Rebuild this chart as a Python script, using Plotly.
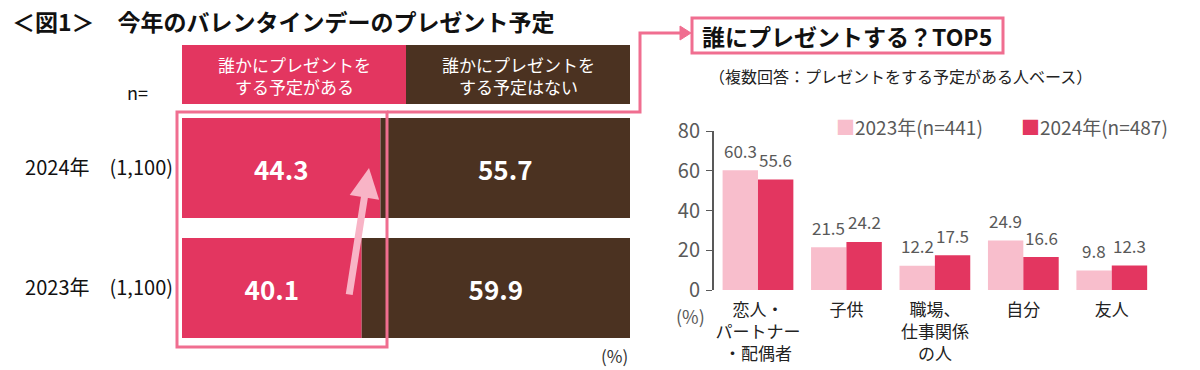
import plotly.graph_objects as go

# ---------------- data ----------------
years = ["2023年", "2024年"]
n_sizes = [1100, 1100]
yes_plan = [40.1, 44.3]
no_plan = [59.9, 55.7]
left_headers = ["誰かにプレゼントを<br>する予定がある", "誰かにプレゼントを<br>する予定はない"]

recipients = ["恋人・<br>パートナー<br>・配偶者", "子供", "職場、<br>仕事関係<br>の人", "自分", "友人"]
vals_2023 = [60.3, 21.5, 12.2, 24.9, 9.8]
vals_2024 = [55.6, 24.2, 17.5, 16.6, 12.3]
legend_names = ["2023年(n=441)", "2024年(n=487)"]
y_ticks = [0, 20, 40, 60, 80]

# ---------------- style ----------------
W, H = 1200, 370
PINK = "#E33660"
LPINK = "#F8BECC"
BROWN = "#4B3221"
OUTLINE = "#F06E90"
ARROW = "#F8B4C6"
GRAY = "#595959"
JP = "Noto Sans CJK JP"


def px(x):
    return x / W


def py(y):
    return 1 - y / H


row_labels = [f"{y}　({n:,})" for y, n in zip(years, n_sizes)]

fig = go.Figure()

# left stacked bars
fig.add_trace(go.Bar(
    y=row_labels, x=yes_plan, orientation="h", marker=dict(color=PINK, line=dict(width=0)),
    texttemplate="%{x:.1f}", textposition="inside", insidetextanchor="middle",
    textfont=dict(color="white", size=26, family=JP, weight="bold"),
    offset=-0.4167, width=0.8333, xaxis="x", yaxis="y", showlegend=False, hoverinfo="skip",
))
fig.add_trace(go.Bar(
    y=row_labels, x=no_plan, base=yes_plan, orientation="h", marker=dict(color=BROWN, line=dict(width=0)),
    texttemplate="%{x:.1f}", textposition="inside", insidetextanchor="middle",
    textfont=dict(color="white", size=26, family=JP, weight="bold"),
    offset=-0.4167, width=0.8333, xaxis="x", yaxis="y", showlegend=False, hoverinfo="skip",
))

# right grouped bars
series_colors = [LPINK, PINK]
for name, vals, col in zip(legend_names, [vals_2023, vals_2024], series_colors):
    fig.add_trace(go.Bar(
        x=recipients, y=vals, name=name, marker=dict(color=col, line=dict(width=0)),
        xaxis="x2", yaxis="y2", hoverinfo="skip", showlegend=False,
    ))

annotations = []
# value labels above right bars
half = 88.5 * 0.8 / 4
for cat, v23, v24 in zip(recipients, vals_2023, vals_2024):
    for v, sh in ((v23, -half), (v24, half)):
        annotations.append(dict(
            x=cat, y=v, xref="x2", yref="y2", text=f"{v:.1f}", showarrow=False,
            xshift=sh, yshift=20, yanchor="middle", xanchor="center",
            font=dict(size=17, color=GRAY, family=JP),
        ))

# legend (manual, compact like the reference)
for name, col, lx in zip(legend_names, series_colors, [834, 1019]):
    annotations.append(dict(
        x=px(lx), y=py(126), xref="paper", yref="paper", xanchor="left", yanchor="middle",
        text=f"<span style='color:{col}'>■</span>{name}", showarrow=False,
        font=dict(size=19, color=GRAY, family=JP),
    ))


def label(x, y, text, size, color, xanchor="center", bold=False):
    if bold:
        text = f"<b>{text}</b>"
    annotations.append(dict(
        x=px(x), y=py(y), xref="paper", yref="paper", xanchor=xanchor, yanchor="middle",
        text=text, showarrow=False, font=dict(size=size, color=color, family=JP),
    ))


label(10, 21, "＜図1＞　今年のバレンタインデーのプレゼント予定", 23, "#111111", "left", True)
label(294, 75, left_headers[0], 17, "white")
label(518, 75, left_headers[1], 17, "white")
label(137, 92, "n=", 18, "#111111")
label(630, 355, "(%)", 17, "#333333", "right")
label(847, 36, "誰にプレゼントする？TOP5", 23, "#111111", bold=True)
label(900, 76, "（複数回答：プレゼントをする予定がある人ベース）", 16, "#222222")
label(690, 316, "(%)", 18, GRAY)

# increase arrow
annotations.append(dict(
    x=px(369), y=py(168), xref="paper", yref="paper", ax=-20, ay=128, axref="pixel", ayref="pixel",
    text="", showarrow=True, arrowhead=2, arrowsize=0.85, arrowwidth=7, arrowcolor=ARROW,
))

shapes = [
    # header boxes
    dict(type="rect", xref="paper", yref="paper", x0=px(182), x1=px(406), y0=py(104), y1=py(45),
         fillcolor=PINK, line=dict(width=0), layer="below"),
    dict(type="rect", xref="paper", yref="paper", x0=px(406), x1=px(630), y0=py(104), y1=py(45),
         fillcolor=BROWN, line=dict(width=0), layer="below"),
    # highlight outline
    dict(type="rect", xref="paper", yref="paper", x0=px(177), x1=px(387), y0=py(347), y1=py(112),
         line=dict(color=OUTLINE, width=3), layer="above"),
    # connector
    dict(type="path", xref="paper", yref="paper",
         path=f"M {px(387)},{py(112)} L {px(640)},{py(112)} L {px(640)},{py(33)} L {px(682)},{py(33)}",
         line=dict(color=OUTLINE, width=3), layer="above"),
    dict(type="path", xref="paper", yref="paper",
         path=f"M {px(680)},{py(26)} L {px(691)},{py(33)} L {px(680)},{py(40)} Z",
         fillcolor=OUTLINE, line=dict(color=OUTLINE, width=1), layer="above"),
    # title box
    dict(type="rect", xref="paper", yref="paper", x0=px(692), x1=px(1003), y0=py(53), y1=py(18),
         fillcolor="white", line=dict(color=OUTLINE, width=3), layer="below"),
]

fig.update_layout(
    template="none",
    width=W, height=H, margin=dict(l=0, r=0, t=0, b=0, pad=0), autosize=False,
    paper_bgcolor="white", plot_bgcolor="rgba(0,0,0,0)",
    barmode="group", bargap=0.2, bargroupgap=0, showlegend=False,
    font=dict(family=JP, color="#333333"),
    xaxis=dict(domain=[px(182), px(630)], range=[0, 100], visible=False, fixedrange=True, automargin=False),
    yaxis=dict(domain=[py(348), py(108)], anchor="x", showline=False, showgrid=False, zeroline=False,
               ticks="", ticklabelstandoff=8, tickfont=dict(size=20, color="#111111", family=JP),
               categoryorder="array", categoryarray=row_labels, automargin=False),
    xaxis2=dict(domain=[px(713.75), px(1156)], anchor="y2", showline=False, showgrid=False, zeroline=False,
                ticks="", ticklabelstandoff=8, tickfont=dict(size=17, color="#222222", family=JP),
                tickangle=0, automargin=False),
    yaxis2=dict(domain=[py(290), py(131)], anchor="x2", range=[0, 80], tickvals=y_ticks,
                showline=True, linecolor=GRAY, linewidth=1.5, ticks="outside", ticklen=6, tickcolor=GRAY,
                ticklabelstandoff=2,
                showgrid=False, zeroline=False, tickfont=dict(size=20, color=GRAY, family=JP), automargin=False),
    annotations=annotations,
    shapes=shapes,
)

fig.write_html(
    "out.html",
    config={"displayModeBar": False},
    post_script="document.body.style.margin='0px';document.body.style.overflow='hidden';",
)
